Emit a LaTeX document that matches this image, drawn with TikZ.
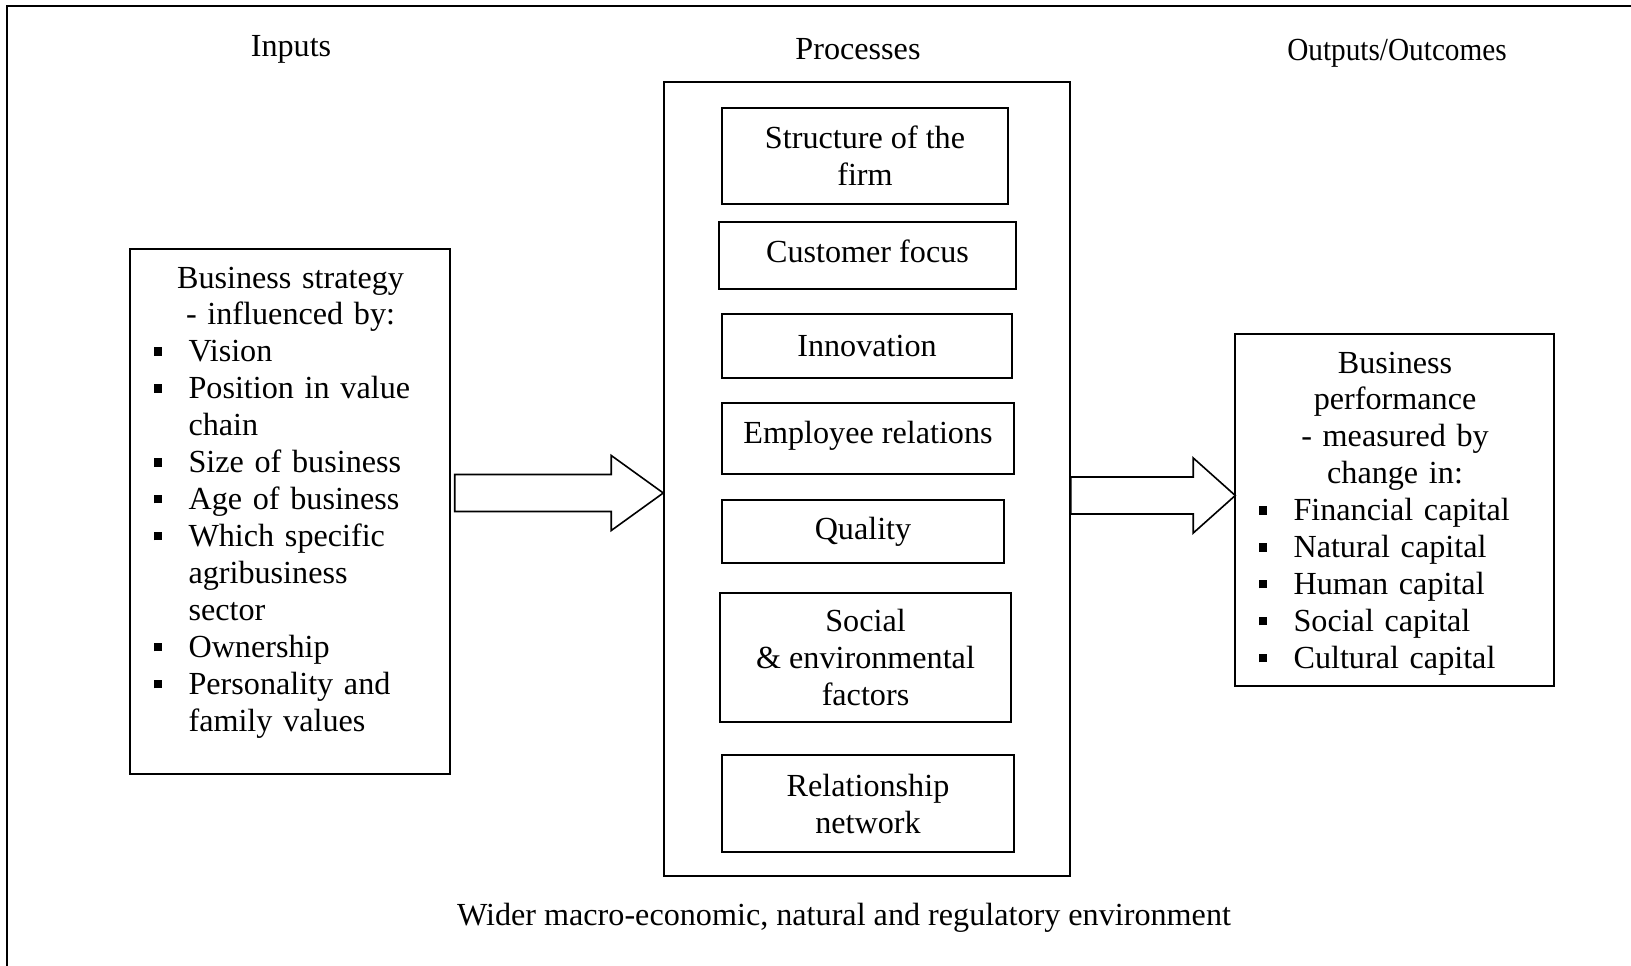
\documentclass[tikz,border=0pt]{standalone}
\usepackage{fontspec}
\setmainfont{Liberation Serif}
\usetikzlibrary{positioning}
\usetikzlibrary{calc}

% One pixel of the original layout
\newdimen\px
\px=0.3731pt

% Square list bullet and the indent for wrapped list lines
\newcommand{\sqbul}{\hspace*{23\px}\makebox[35\px][l]{\rule[2.4pt]{3.2pt}{3.2pt}}}
\newcommand{\sqind}{\hspace*{58\px}}

\tikzset{
    % Thin outline used for every box
    box line/.style={draw, line width=0.55pt},
%
    % The single processes stacked in the middle box
    process/.style={box line, align=center, inner sep=0},
%
    % Column headings and the caption at the bottom
    heading/.style={anchor=base, inner sep=0},
%
    % Text block sitting inside a box
    box text/.style={anchor=base west, inner sep=0},
%
    % Hollow block arrow between the columns
    block arrow/.style={draw, line width=0.6pt, fill=white, line join=miter}}

% Block arrow: tail, tip, length of the head
\newcommand{\blockarrow}[3]{%
  \draw[block arrow] ($(#1)+(0,-18.5)$) -- ($(#2)+(-#3,-18.5)$)
    -- ($(#2)+(-#3,-37.5)$) -- (#2) -- ($(#2)+(-#3,37.5)$)
    -- ($(#2)+(-#3,18.5)$) -- ($(#1)+(0,18.5)$) -- cycle;}

\begin{document}
\begin{tikzpicture}[x=\px, y=-\px, font=\fontsize{12pt}{13.8pt}\selectfont]
\useasboundingbox (0,0) rectangle (1631,966);

% Frame round the whole figure (top and left only)
\draw[line width=0.75pt] (1631,6) -| (7,966);

% Column headings
\node[heading] at (291,57) (inputs title) {Inputs};
\node[heading] at (858,60) (processes title) {Processes};
\node[heading] at (1397,61) (outputs title)
    {\scalebox{0.91}[1]{Outputs/Outcomes}};


% Inputs: business strategy
\node[box line, minimum width=320*\px, minimum height=525*\px]
    at (290,511.5) (inputs) {};
\node[box text, text width=320*\px] at (130,288) (inputs text) {%
    \centering Business strategy\\- influenced by:\par\raggedright
    \sqbul Vision\\
    \sqbul Position in value\\
    \sqind chain\\
    \sqbul Size of business\\
    \sqbul Age of business\\
    \sqbul Which specific\\
    \sqind agribusiness\\
    \sqind sector\\
    \sqbul Ownership\\
    \sqbul Personality and\\
    \sqind family values};


% Processes: outer box and the stack inside it
\node[box line, minimum width=406*\px, minimum height=794*\px]
    at (867,479) (processes) {};
\node[process, minimum width=286*\px, minimum height=96*\px]
    at (865,156) (structure) {Structure of the\\firm};
\node[process, minimum width=297*\px, minimum height=67*\px, text depth=3pt]
    at (867.5,255.5) (customer) {Customer focus};
\node[process, minimum width=290*\px, minimum height=64*\px]
    at (867,346) (innovation) {Innovation};
\node[process, minimum width=292*\px, minimum height=71*\px, text depth=4.8pt]
    at (868,438.5) (employee) {Employee relations};
\node[process, minimum width=282*\px, minimum height=63*\px]
    at (863,531.5) (quality) {Quality};
\node[process, minimum width=291*\px, minimum height=129*\px]
    at (865.5,657.5) (social) {Social\\\& environmental\\factors};
\node[process, minimum width=292*\px, minimum height=97*\px]
    at (868,803.5) (network) {Relationship\\network};


% Outputs: business performance
\node[box line, minimum width=319*\px, minimum height=352*\px]
    at (1394.5,510) (outputs) {};
\node[box text, text width=319*\px] at (1235,373) (outputs text) {%
    \centering Business\\performance\\- measured by\\change in:\par\raggedright
    \sqbul Financial capital\\
    \sqbul Natural capital\\
    \sqbul Human capital\\
    \sqbul Social capital\\
    \sqbul Cultural capital};


% Block arrows between the columns
\coordinate (in tail) at ($(inputs.east)+(4,-18.5)$);
\coordinate (in tip) at (processes.west |- in tail);
\blockarrow{in tail}{in tip}{52}
\coordinate (out tip) at ($(outputs.west)+(1,-14.5)$);
\coordinate (out tail) at (processes.east |- out tip);
\blockarrow{out tail}{out tip}{42}

% Caption under the processes
\node[heading] at (844,925) (environment)
    {Wider macro-economic, natural and regulatory environment};
\end{tikzpicture}
\end{document}
